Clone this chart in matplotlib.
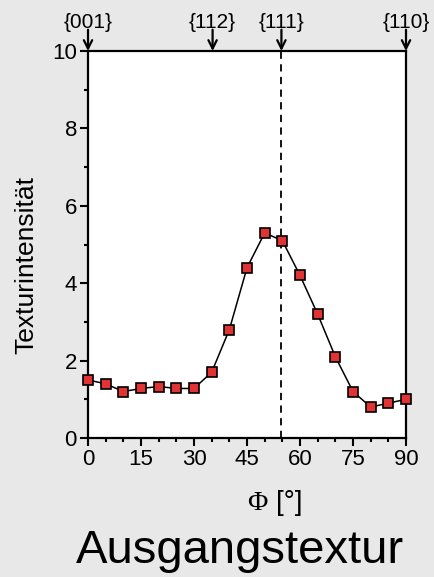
import numpy as np
import matplotlib.pyplot as plt
from matplotlib.ticker import MultipleLocator

plt.rcParams['font.family'] = ['Liberation Sans', 'DejaVu Sans']

# Texturintensität über dem Winkel Phi
phi = [0, 5, 10, 15, 20, 25, 30, 35, 40, 45, 50, 55, 60, 65, 70, 75, 80, 85, 90]
intensitaet = [1.5, 1.4, 1.2, 1.28, 1.33, 1.28, 1.28, 1.7, 2.8, 4.4, 5.3, 5.1,
               4.2, 3.2, 2.1, 1.2, 0.8, 0.9, 1.0]

# Lage der Orientierungen
pole_namen = ['{001}', '{112}', '{111}', '{110}']
pole_winkel = [0, 35.26, 54.74, 90]

bg = '#e8e8e8'
fig = plt.figure(figsize=(4.34, 5.77), dpi=100, facecolor=bg)
ax = fig.add_axes([0.2028, 0.2409, 0.7327, 0.6707])
ax.set_facecolor('white')

ax.plot(phi, intensitaet, color='black', lw=1.1, marker='s', markersize=7,
        markerfacecolor='#e03434', markeredgecolor='black', markeredgewidth=1.2,
        zorder=3, clip_on=False)
ax.axvline(pole_winkel[2], color='black', ls='--', lw=1.3, dashes=(4, 3))

ax.set_xlim(0, 90)
ax.set_ylim(0, 10)
ax.xaxis.set_major_locator(MultipleLocator(15))
ax.xaxis.set_minor_locator(MultipleLocator(5))
ax.yaxis.set_major_locator(MultipleLocator(2))
ax.yaxis.set_minor_locator(MultipleLocator(1))
ax.tick_params(which='major', direction='out', length=6, width=1.5, labelsize=16, pad=2)
ax.tick_params(which='minor', direction='out', length=3, width=1.5)
for s in ax.spines.values():
    s.set_linewidth(1.6)

# Pfeile für die Orientierungen oberhalb der Achse
for name, w in zip(pole_namen, pole_winkel):
    ax.annotate('', xy=(w, 10), xytext=(w, 10.55), annotation_clip=False,
                arrowprops=dict(arrowstyle='->', lw=1.6, color='black',
                                mutation_scale=15, shrinkA=0, shrinkB=0))
    ax.text(w, 10.5, name, ha='center', va='bottom', fontsize=15)

fig.text(0.06, 1 - 265 / 577, 'Texturintensität', fontsize=19, rotation=90,
         ha='center', va='center')

# Achsenbeschriftung mit Phi in Serifenschrift
fig.text(0.616, 1 - 510 / 577, 'Φ', family='Liberation Serif', fontsize=20,
         ha='right', va='baseline')
fig.text(0.636, 1 - 510 / 577, '[°]', fontsize=20, ha='left', va='baseline')

fig.text(0.553, 1 - 563 / 577, 'Ausgangstextur', fontsize=34, ha='center', va='baseline')

fig.savefig('out.png', dpi=100, facecolor=bg)
